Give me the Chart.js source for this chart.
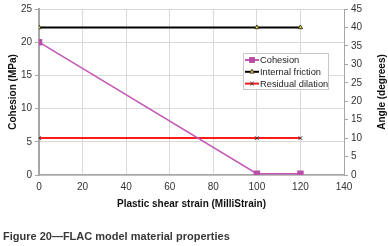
<!DOCTYPE html>
<html>
<head>
<meta charset="utf-8">
<script src="https://cdn.jsdelivr.net/npm/chart.js@4/dist/chart.umd.min.js"></script>
<style>
  html, body { margin: 0; padding: 0; background: #fff; }
  #wrap { position: relative; width: 388px; height: 246px; }
  #caption {
    position: absolute; left: 3px; top: 230px;
    font: bold 11px "Liberation Sans", Arial, sans-serif;
    color: #383838; white-space: nowrap;
  }
</style>
</head>
<body>
<div id="wrap">
  <canvas id="chart" width="388" height="246"></canvas>
  <div id="caption">Figure 20—FLAC model material properties</div>
</div>
<script>
// data
const strain = [0, 100, 120];
const cohesion = [20, 0.2, 0.2];
const friction = [40, 40, 40];
const dilation = [10, 10, 10];
const seriesNames = ['Cohesion', 'Internal friction', 'Residual dilation'];
const leftTicks = [0, 5, 10, 15, 20, 25];
const rightTicks = [0, 5, 10, 15, 20, 25, 30, 35, 40, 45];
const xTicks = [0, 20, 40, 60, 80, 100, 120, 140];

const FONT = '"Liberation Sans", Arial, sans-serif';
const GRID = '#d9d9d9';
const AXIS = '#a6a6a6';

function pts(ys) {
    return strain.map((x, i) => ({ x: x, y: ys[i] }));
}

// legend drawn inside the plot, like the original
const boxLegend = {
    id: 'boxLegend',
    afterDraw(chart) {
        const ctx = chart.ctx;
        const x0 = 243, y0 = 53, w = 85, h = 36;
        ctx.save();
        ctx.fillStyle = '#fff';
        ctx.fillRect(x0, y0, w, h);
        ctx.strokeStyle = '#c8c8c8';
        ctx.lineWidth = 1;
        ctx.strokeRect(x0 + 0.5, y0 + 0.5, w, h);
        chart.data.datasets.forEach((ds, i) => {
            const cy = y0 + 7 + i * 11.8;
            ctx.strokeStyle = ds.borderColor;
            ctx.lineWidth = 2;
            ctx.beginPath();
            ctx.moveTo(x0 + 2, cy);
            ctx.lineTo(x0 + 16, cy);
            ctx.stroke();
            ctx.fillStyle = ds.pointBackgroundColor;
            ctx.strokeStyle = ds.pointBorderColor;
            ctx.lineWidth = 1;
            Chart.helpers.drawPoint(ctx, {
                pointStyle: ds.pointStyle,
                rotation: ds.pointRotation || 0,
                radius: ds.pointRadius,
                borderWidth: 1
            }, x0 + 9, cy);
            ctx.fillStyle = '#222';
            ctx.font = '9.3px ' + FONT;
            ctx.textBaseline = 'middle';
            ctx.fillText(ds.label, x0 + 17, cy + 0.5);
        });
        ctx.restore();
    }
};

// both y titles read bottom-to-top in the original
const sideTitles = {
    id: 'sideTitles',
    afterDraw(chart) {
        const ctx = chart.ctx;
        const a = chart.chartArea;
        const mid = (a.top + a.bottom) / 2;
        ctx.save();
        ctx.fillStyle = '#111';
        ctx.font = 'bold 10px ' + FONT;
        ctx.textAlign = 'center';
        ctx.textBaseline = 'middle';
        [[13, 'Cohesion (MPa)'], [382, 'Angle (degrees)']].forEach(([x, t]) => {
            ctx.save();
            ctx.translate(x, mid);
            ctx.rotate(-Math.PI / 2);
            ctx.fillText(t, 0, 0);
            ctx.restore();
        });
        ctx.restore();
    }
};

const tickFont = { family: FONT, size: 10 };

new Chart(document.getElementById('chart'), {
    type: 'line',
    data: {
        datasets: [{
            label: seriesNames[0],
            data: pts(cohesion),
            yAxisID: 'y',
            borderColor: '#c457b5',
            borderWidth: 1.5,
            pointStyle: 'rect',
            pointRadius: 3.5,
            pointBackgroundColor: '#b94fa8',
            pointBorderColor: '#b94fa8',
            order: 1
        }, {
            label: seriesNames[1],
            data: pts(friction),
            yAxisID: 'y2',
            borderColor: '#000',
            borderWidth: 2,
            pointStyle: 'triangle',
            pointRadius: 2.5,
            pointBackgroundColor: '#f2e04a',
            pointBorderColor: '#3a3a20',
            pointBorderWidth: 1,
            order: 2
        }, {
            label: seriesNames[2],
            data: pts(dilation),
            yAxisID: 'y2',
            borderColor: '#ff1a1a',
            borderWidth: 2,
            pointStyle: 'cross',
            pointRotation: 45,
            pointRadius: 2.5,
            pointBackgroundColor: '#333',
            pointBorderColor: '#333',
            pointBorderWidth: 1,
            order: 3
        }]
    },
    options: {
        responsive: false,
        animation: false,
        layout: { padding: { top: 9, bottom: 36, left: 0, right: 0 } },
        plugins: {
            legend: { display: false },
            tooltip: { enabled: false }
        },
        scales: {
            x: {
                type: 'linear',
                min: 0, max: 140,
                afterBuildTicks: s => { s.ticks = xTicks.map(v => ({ value: v })); },
                afterFit: s => { s.height = 35; },
                grid: { color: GRID, tickLength: 0, drawTicks: false },
                border: { color: AXIS, width: 1.5 },
                ticks: { color: '#333', font: tickFont, padding: 6, maxRotation: 0 },
                title: {
                    display: true, text: 'Plastic shear strain (MilliStrain)',
                    color: '#111', font: { family: FONT, size: 10, weight: 'bold' },
                    padding: { top: 3, bottom: 0 }
                }
            },
            y: {
                position: 'left',
                min: 0, max: 25,
                afterBuildTicks: s => { s.ticks = leftTicks.map(v => ({ value: v })); },
                afterFit: s => { s.width = 39; },
                grid: { color: GRID, tickLength: 4, tickColor: AXIS },
                border: { color: AXIS, width: 2 },
                ticks: { color: '#333', font: tickFont, padding: 3 }
            },
            y2: {
                position: 'right',
                min: 0, max: 45,
                afterBuildTicks: s => { s.ticks = rightTicks.map(v => ({ value: v })); },
                afterFit: s => { s.width = 44; },
                grid: { drawOnChartArea: false, tickLength: 4, tickColor: AXIS },
                border: { color: AXIS, width: 1 },
                ticks: { color: '#333', font: tickFont, padding: 3 }
            }
        }
    },
    plugins: [boxLegend, sideTitles]
});
</script>
</body>
</html>
